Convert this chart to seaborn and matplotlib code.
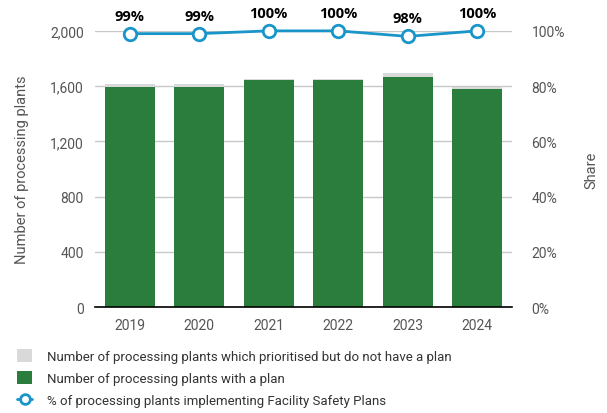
import numpy as np
import pandas as pd
import seaborn as sns
import matplotlib.pyplot as plt
from matplotlib.lines import Line2D
from matplotlib.patches import Patch

# 数据
years = ['2019', '2020', '2021', '2022', '2023', '2024']
with_plan = [1590, 1590, 1645, 1645, 1665, 1578]
no_plan = [28, 28, 6, 6, 28, 12]
share = [99, 99, 100, 100, 98, 100]
share_labels = ['99%', '99%', '100%', '100%', '98%', '100%']

total = [a + b for a, b in zip(with_plan, no_plan)]
df = pd.DataFrame({'year': years, 'with_plan': with_plan, 'total': total, 'share': share})

sns.set_theme(style='white')
plt.rcParams['font.family'] = ['Roboto', 'DejaVu Sans']

green = '#2a7d3c'
grey = '#d9d9d9'
blue = '#1a95c9'
txt = '#555555'

fig = plt.figure(figsize=(6.07, 4.14), dpi=100)
ax = fig.add_axes([0.1565, 0.256, 0.687, 0.667])

sns.barplot(data=df, x='year', y='total', color=grey, width=0.72, saturation=1, ax=ax,
            zorder=2, linewidth=0, edgecolor='none')
sns.barplot(data=df, x='year', y='with_plan', color=green, width=0.72, saturation=1, ax=ax,
            zorder=3, linewidth=0, edgecolor='none')

ax.set_ylim(0, 2000)
ax.set_xlim(-0.5, 5.5)
ax.set_yticks([0, 400, 800, 1200, 1600, 2000])
ax.set_yticklabels(['0', '400', '800', '1,200', '1,600', '2,000'])
ax.yaxis.grid(True, color='#c8c8c8', linewidth=1)
ax.set_axisbelow(True)
for s in ['top', 'right', 'left']:
    ax.spines[s].set_visible(False)
ax.spines['bottom'].set_color('black')
ax.spines['bottom'].set_linewidth(1.2)
ax.spines['bottom'].set_zorder(4)
ax.tick_params(axis='both', length=0, labelsize=10, labelcolor=txt, pad=8)
ax.set_xlabel('')
ax.set_ylabel('Number of processing plants', fontsize=10.5, color=txt, labelpad=15)

ax2 = ax.twinx()
sns.lineplot(x=np.arange(len(years)), y=share, ax=ax2, color=blue, linewidth=2, marker='o',
             markersize=9, markerfacecolor='white', markeredgecolor=blue, markeredgewidth=2,
             zorder=5, clip_on=False)
ax2.set_ylim(0, 100)
ax2.set_yticks([0, 20, 40, 60, 80, 100])
ax2.set_yticklabels(['0%', '20%', '40%', '60%', '80%', '100%'])
for s in ax2.spines.values():
    s.set_visible(False)
ax2.tick_params(axis='y', length=0, labelsize=10, labelcolor=txt, pad=14)
ax2.set_ylabel('Share', fontsize=10.5, color=txt, labelpad=14)

for i, lab in enumerate(share_labels):
    ax2.text(i, share[i] + 4, lab, ha='center', va='bottom', fontsize=10.5,
             fontweight='bold', color='black', family=['Open Sans', 'DejaVu Sans'],
             clip_on=False)

handles = [
    Patch(facecolor=grey, edgecolor='none'),
    Patch(facecolor=green, edgecolor='none'),
    Line2D([], [], color=blue, linewidth=2, marker='o', markersize=7,
           markerfacecolor='white', markeredgecolor=blue, markeredgewidth=2),
]
labels = [
    'Number of processing plants which prioritised but do not have a plan',
    'Number of processing plants with a plan',
    '% of processing plants implementing Facility Safety Plans',
]
fig.legend(handles, labels, loc='lower left', bbox_to_anchor=(0.015, -0.005), frameon=False,
           fontsize=9.5, labelcolor='#333333', handlelength=1.15, handleheight=1.2,
           handletextpad=1.1, labelspacing=0.6, borderaxespad=0.2)

fig.savefig('out.png', dpi=100)
